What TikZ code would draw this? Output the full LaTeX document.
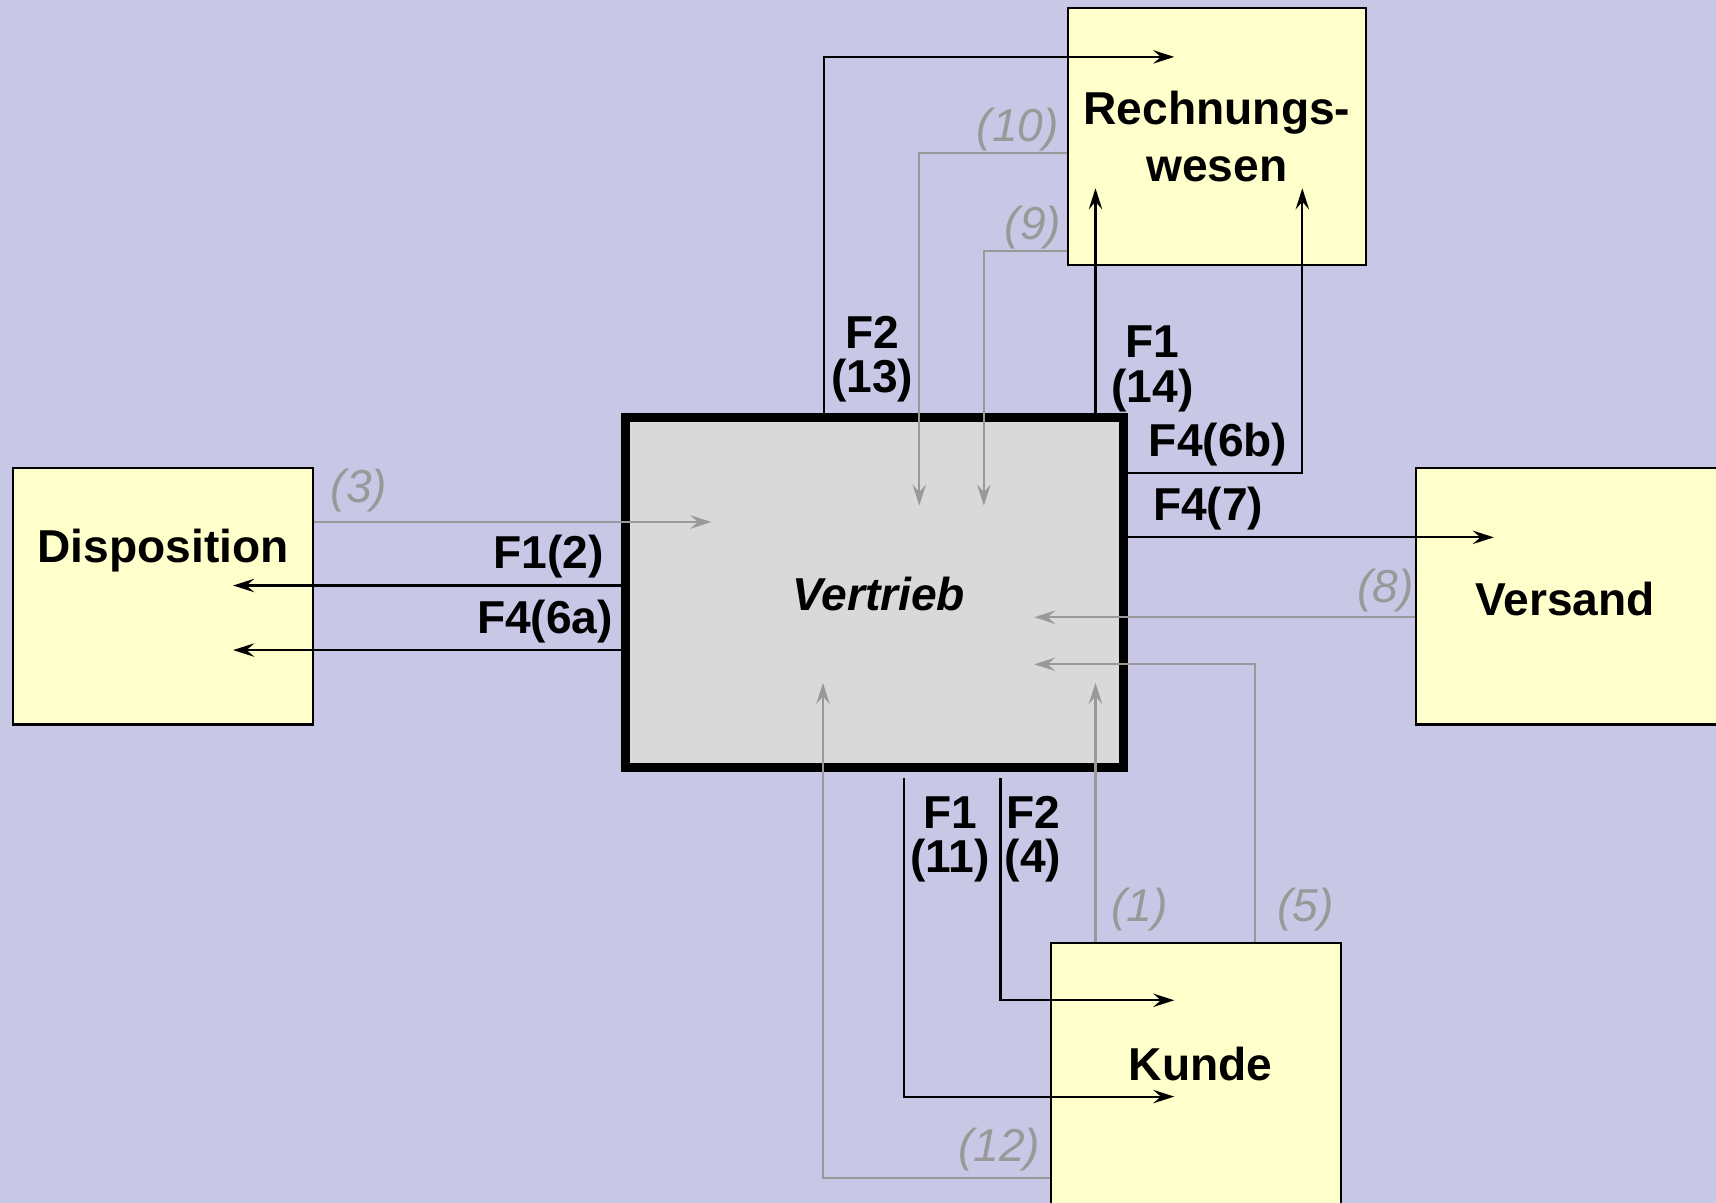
\documentclass[tikz,border=0pt]{standalone}
\usepackage{fontspec}
\setmainfont{Liberation Sans}
\usepackage{xcolor}
\usepackage{tikz}
\usetikzlibrary{arrows.meta, calc, positioning}
\definecolor{mybg}{RGB}{200,200,230}
\definecolor{myyellow}{RGB}{255,255,204}
\definecolor{mygrey}{RGB}{217,217,217}
\definecolor{mylink}{RGB}{153,153,153}
\tikzstyle{unit} = [rectangle, draw=black, line width=1.1pt, fill=myyellow, inner sep=0pt, align=center, font=\fontsize{24}{29.5}\selectfont\bfseries]
\tikzstyle{core} = [rectangle, draw=black, line width=5pt, fill=mygrey, minimum width=9.1cm, minimum height=6.4cm, font=\fontsize{24}{23}\selectfont\bfseries\itshape]
\tikzstyle{unittext} = [inner sep=0pt, font=\fontsize{24}{23}\selectfont\bfseries]
\tikzstyle{flow} = [line width=1.1pt, -{Stealth[length=11pt,width=7pt,inset=4pt]}]
\tikzstyle{backflow} = [flow, mylink]
\tikzstyle{flowlabel} = [inner sep=0pt, align=center, font=\fontsize{24}{23}\selectfont\bfseries]
\tikzstyle{backlabel} = [inner sep=0pt, text=mylink, font=\fontsize{24}{23}\selectfont\itshape]

\begin{document}
\begin{tikzpicture}[x=0.02cm, y=-0.02cm]
    \fill [mybg] (0,0) rectangle (1568,1099);
    \useasboundingbox (0,0) rectangle (1568,1099);
    % boxes
    \node (rw) [unit, minimum width=5.44cm, minimum height=4.7cm] at (1112,124.5) {Rechnungs-\\wesen};
    \node (disp) [unit, minimum width=5.48cm, minimum height=4.68cm] at (149,545) {};
    \node (vers) [unit, minimum width=5.7cm, minimum height=4.68cm] at (1436.5,545) {};
    \node (kunde) [unit, minimum width=5.3cm, minimum height=5.04cm] at (1092.5,988) {};
    \node (vertrieb) [core] at (799,541.5) {};
    \node (disptext) [unittext] at (149,503) {Disposition};
    \node (verstext) [unittext] at (1430,547) {Versand};
    \node (kundetext) [unittext] at (1097,972) {Kunde};
    \node (verttext) [unittext, font=\fontsize{24}{23}\selectfont\bfseries\itshape] at (803,543) {Vertrieb};

    % arrow ends
    \coordinate (in13) at (1073,52);
    \coordinate (in14) at (1001,172);
    \coordinate (in6b) at (1190,172);
    \coordinate (in7) at (1365,491);
    \coordinate (in2) at (213,535);
    \coordinate (in6a) at (213,594);
    \coordinate (in11) at (1073,1002);
    \coordinate (in4) at (1073,914);
    \coordinate (in3) at (650,477);
    \coordinate (in10) at (840,462);
    \coordinate (in9) at (899,462);
    \coordinate (in8) at (945,564);
    \coordinate (in5) at (945,607);
    \coordinate (in1) at (1001,624);
    \coordinate (in12) at (752,624);

    % outgoing flows
    \draw [flow] ($(vertrieb.north west)+(186,0)$) |- (in13);
    \draw [flow] (in14 |- vertrieb.north) -- (in14);
    \draw [flow] ($(vertrieb.north east)+(0,55)$) -| (in6b);
    \draw [flow] (vertrieb.east |- in7) -- (in7);
    \draw [flow] (vertrieb.west |- in2) -- (in2);
    \draw [flow] (vertrieb.west |- in6a) -- (in6a);
    \draw [flow] ($(vertrieb.south west)+(259,5)$) |- (in11);
    \draw [flow] ($(vertrieb.south west)+(347,5)$) |- (in4);

    % incoming flows
    \draw [backflow] (disp.east |- in3) -- (in3);
    \draw [backflow] ($(rw.north west)+(0,134)$) -| (in10);
    \draw [backflow] ($(rw.north west)+(0,223)$) -| (in9);
    \draw [backflow] (vers.west |- in8) -- (in8);
    \draw [backflow] ($(kunde.north west)+(188,0)$) |- (in5);
    \draw [backflow] (in1 |- kunde.north) -- (in1);
    \draw [backflow] ($(kunde.north west)+(0,215)$) -| (in12);

    % labels
    \node (l13) [flowlabel] at (797,328) {F2\\(13)};
    \node (l14) [flowlabel] at (1053,337) {F1\\(14)};
    \node (l6b) [flowlabel] at (1113,406) {F4(6b)};
    \node (l7) [flowlabel] at (1104,465) {F4(7)};
    \node (l2) [flowlabel] at (501,509) {F1(2)};
    \node (l6a) [flowlabel] at (498,568) {F4(6a)};
    \node (l11) [flowlabel] at (868,767) {F1\\(11)};
    \node (l4) [flowlabel] at (944,767) {F2\\(4)};
    \node (l3) [backlabel] at (328,448) {(3)};
    \node (l10) [backlabel] at (930,118) {(10)};
    \node (l9) [backlabel] at (944,208) {(9)};
    \node (l8) [backlabel] at (1266,540) {(8)};
    \node (l5) [backlabel] at (1193,831) {(5)};
    \node (l1) [backlabel] at (1041,831) {(1)};
    \node (l12) [backlabel] at (913,1050) {(12)};
\end{tikzpicture}
\end{document}
